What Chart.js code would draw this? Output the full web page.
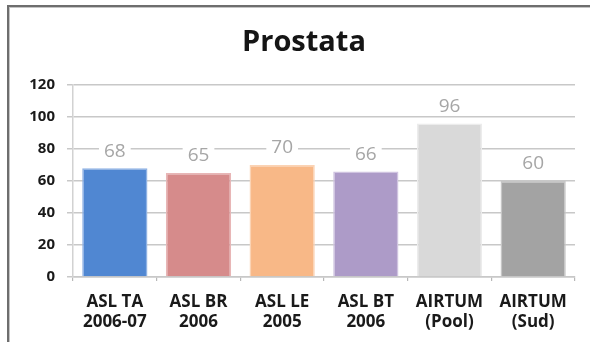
<!DOCTYPE html>
<html>
<head>
<meta charset="utf-8">
<script src="https://cdn.jsdelivr.net/npm/chart.js@4"></script>
<style>
  html, body { margin: 0; padding: 0; background: #fff; overflow: hidden; }
  #wrap { position: relative; width: 590px; height: 342px; overflow: hidden; }
  #c { position: absolute; left: 0; top: 0; }
  .frame {
    position: absolute; left: 7px; top: 5px; width: 700px; height: 500px;
    border-left: 2px solid #6e6e6e; border-top: 2px solid #6e6e6e;
    box-shadow: inset 1px 1px 0 #c4c4c4; pointer-events: none;
  }
</style>
</head>
<body>
<div id="wrap">
  <canvas id="c" width="610" height="342"></canvas>
  <div class="frame"></div>
</div>
<script>
// Registries and years
const categories = [
  ['ASL TA', '2006-07'],
  ['ASL BR', '2006'],
  ['ASL LE', '2005'],
  ['ASL BT', '2006'],
  ['AIRTUM', '(Pool)'],
  ['AIRTUM', '(Sud)']
];
const values = [68, 65, 70, 66, 96, 60];
const barColors = ['#5087d2', '#d68b8b', '#f8b887', '#ad9bc8', '#d9d9d9', '#a3a3a3'];
const barEdges = ['#8fb2e4', '#e8b6b6', '#fbd3b4', '#cfc3e0', '#ececec', '#c6c6c6'];
const yTicks = [0, 20, 40, 60, 80, 100, 120];

const FONT = "'Open Sans', 'Liberation Sans', sans-serif";

// Value labels drawn above each bar on a white plate
const valueLabels = {
  id: 'valueLabels',
  afterDatasetsDraw(chart) {
    const ctx = chart.ctx;
    const meta = chart.getDatasetMeta(0);
    ctx.save();
    ctx.font = '19px ' + FONT;
    ctx.textAlign = 'center';
    ctx.textBaseline = 'middle';
    meta.data.forEach((bar, i) => {
      const txt = String(chart.data.datasets[0].data[i]);
      const cy = bar.y - 18;
      const w = ctx.measureText(txt).width + 10;
      ctx.fillStyle = '#ffffff';
      ctx.fillRect(bar.x - w / 2, cy - 10, w, 20);
      ctx.fillStyle = '#a6a6a6';
      ctx.fillText(txt, bar.x, cy + 1);
    });
    ctx.restore();
  }
};

// Centre the title over the framed panel rather than the full canvas
const titleShift = {
  id: 'titleShift',
  afterLayout(chart) {
    if (chart.titleBlock) chart.titleBlock.left += 33;
  }
};

new Chart(document.getElementById('c'), {
  type: 'bar',
  data: {
    labels: categories,
    datasets: [{
      data: values,
      backgroundColor: barColors,
      borderColor: barEdges,
      borderWidth: 1.5,
      barPercentage: 0.78,
      categoryPercentage: 1.0
    }]
  },
  options: {
    responsive: false,
    animation: false,
    events: [],
    layout: { padding: { top: 25.6, right: 35, bottom: 10, left: 0 } },
    plugins: {
      legend: { display: false },
      tooltip: { enabled: false },
      title: {
        display: true,
        text: 'Prostata',
        color: '#151515',
        font: { family: FONT, size: 29, weight: 'bold', lineHeight: 1.2 },
        padding: { top: 0, bottom: 24.6 }
      }
    },
    scales: {
      x: {
        offset: true,
        grid: {
          display: true, drawOnChartArea: false, drawTicks: true,
          tickLength: 4, color: '#b8b8b8', lineWidth: 1.2, offset: true
        },
        border: { display: true, color: '#c8c8c8', width: 1.5 },
        ticks: {
          color: '#1a1a1a', padding: 11, maxRotation: 0, autoSkip: false,
          font: { family: FONT, size: 17, weight: 'bold', lineHeight: '20px' }
        },
        afterFit(scale) { scale.height = 55; }
      },
      y: {
        min: 0, max: 120,
        afterBuildTicks(scale) { scale.ticks = yTicks.map(v => ({ value: v })); },
        grid: {
          color: '#c8c8c8', lineWidth: 1.5, drawTicks: true, tickLength: 6
        },
        border: { display: true, color: '#d2d2d2', width: 1.5 },
        ticks: {
          color: '#1a1a1a', padding: 12,
          font: { family: FONT, size: 15, weight: 'bold' }
        },
        afterFit(scale) { scale.width = 73; }
      }
    }
  },
  plugins: [valueLabels, titleShift]
});
</script>
</body>
</html>
